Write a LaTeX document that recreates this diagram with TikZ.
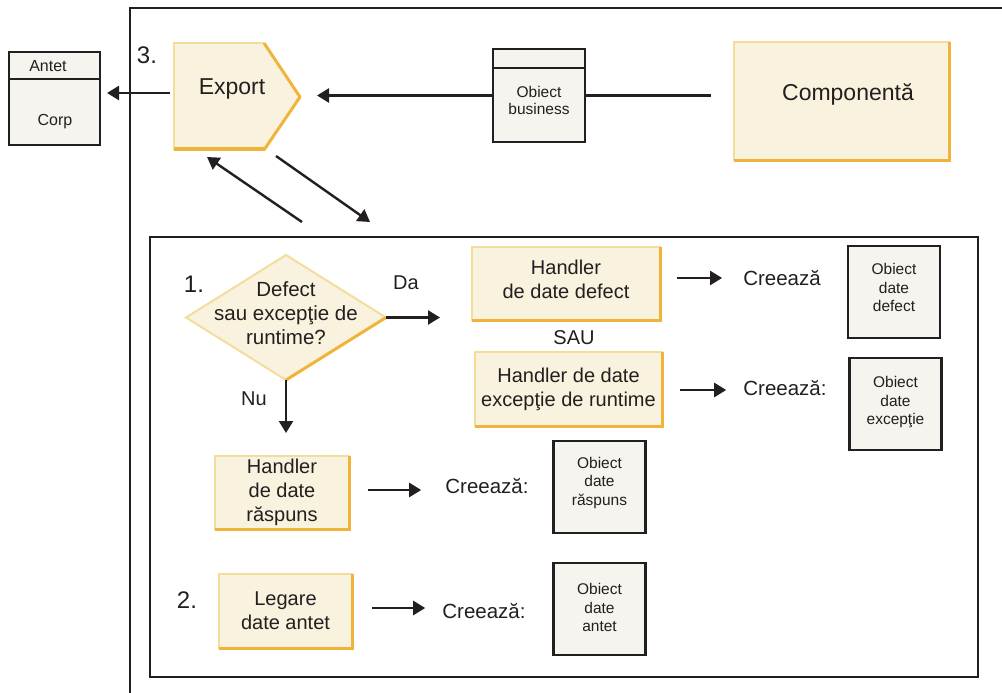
\documentclass[tikz,border=0pt]{standalone}
\usepackage{fontspec}
\setmainfont{Liberation Sans}
\usetikzlibrary{arrows.meta,shapes.geometric}
\definecolor{yfill}{HTML}{F8F2DE}
\definecolor{ylight}{HTML}{F4DD9C}
\definecolor{ydark}{HTML}{F0B43A}
\definecolor{ofill}{HTML}{F6F4EE}
\definecolor{ink}{HTML}{231F20}
\newcommand\shadebox[1]{\draw[shadeline] (#1.north east) -- (#1.south east) -- (#1.south west);}
\tikzset{
  ybox/.style={rectangle, fill=yfill, draw=ylight, line width=2pt, inner sep=0, outer sep=0, align=center, font=\fontsize{20}{24}\selectfont, text=ink},
  obox/.style={rectangle, fill=ofill, draw=ink, line width=2.2pt, inner sep=0, outer sep=0, minimum width=92, minimum height=92},
  otext/.style={inner sep=0, align=center, font=\fontsize{15.5}{18.5}\selectfont, text=ink},
  lbl/.style={inner sep=0, align=center, font=\fontsize{20}{24}\selectfont, text=ink},
  num/.style={inner sep=0, font=\fontsize{24}{28}\selectfont, text=ink},
  arr/.style={draw=ink, line width=2.4pt, -{Triangle[length=12pt,width=14pt]}},
  shadeline/.style={draw=ydark, line width=3pt},
}
\begin{document}
\begin{tikzpicture}[x=1pt,y=-1pt]
\useasboundingbox (0,0) rectangle (1002,693);
% outer frame
\draw[ink, line width=1.6pt] (130,693) -- (130,8) -- (1002,8);

% Antet / Corp message
\node[obox, minimum width=91, minimum height=93] (msg) at (54.5,98.5) {};
\draw[ink, line width=2pt] (msg.west |- 0,79) -- (msg.east |- 0,79);
\node[otext, font=\fontsize{16}{19}\selectfont] (antet) at (48,66) {Antet};
\node[otext, font=\fontsize{16}{19}\selectfont] (corp) at (55,122) {Corp};

% Export
\fill[yfill] (174,43) -- (264,43) -- (300,97) -- (264,150) -- (174,150) -- cycle;
\draw[ylight, line width=2pt] (174,150) -- (174,43) -- (264,43);
\draw[ydark, line width=3pt, line join=round] (264,43) -- (300,97) -- (264,150);
\draw[ydark, line width=4pt] (265,149) -- (174,149);
\node[minimum width=126, minimum height=107, inner sep=0, outer sep=0] (export) at (237,96.5) {};
\node[lbl, font=\fontsize{23}{27}\selectfont] (exportt) at (232,89) {Export};
\node[num] (n3) at (147,55) {3.};
\coordinate (ex) at (174,93);
\draw[arr, shorten <=4pt, shorten >=7pt] (ex) -- (ex -| msg.east);

% Business object
\node[obox, minimum width=92, minimum height=93] (bo) at (539,95.5) {};
\draw[ink, line width=2pt] (bo.west |- 0,68) -- (bo.east |- 0,68);
\node[otext, font=\fontsize{15.5}{17}\selectfont] (bot) at (539,100.5) {Obiect\\business};

% Component
\node[ybox, minimum width=215, minimum height=118] (comp) at (841.5,101) {};
\shadebox{comp}
\node[lbl, font=\fontsize{23}{27}\selectfont] (compt) at (848,94) {Componentă};

\draw[ink, line width=2.4pt, shorten <=23pt] (comp.west |- bo.east) -- (bo.east);
\draw[arr, shorten >=17pt] (bo.west) -- (bo.west -| 300,0);

% diagonal arrows
\coordinate (ua) at (302,222);
\coordinate (ub) at (207,157);
\coordinate (da) at (276,156);
\coordinate (db) at (370,222);
\draw[arr] (ua) -- (ub);
\draw[arr] (da) -- (db);

% inner box
\node[draw=ink, line width=2.6pt, minimum width=828, minimum height=440, inner sep=0, outer sep=0] (inner) at (564,457) {};

% decision
\node[num] (n1) at (194,284) {1.};
\node[diamond, fill=yfill, draw=ylight, line width=2pt, minimum width=200, minimum height=125, inner sep=0, outer sep=0] (dia) at (286,317.5) {};
\draw[shadeline] (dia.east) -- (dia.south);
\node[lbl, font=\fontsize{20.5}{24}\selectfont] (dq) at (286,313) {Defect\\sau excepţie de\\runtime?};
\node[lbl] (da-l) at (406,283) {Da};
\node[lbl] (nu-l) at (254,399) {Nu};

% handlers
\node[ybox, minimum width=188, minimum height=73] (hd) at (566,283.5) {};
\shadebox{hd}
\node[lbl] (hdt) at (566,279) {Handler\\de date defect};
\node[lbl] (sau) at (574,338) {SAU};
\node[ybox, minimum width=187, minimum height=74] (he) at (568.5,389) {Handler de date\\excepţie de runtime};
\shadebox{he}
\node[ybox, minimum width=134, minimum height=73] (hr) at (282,492.5) {Handler\\de date\\răspuns};
\shadebox{hr}
\node[num] (n2) at (187,600) {2.};
\node[ybox, minimum width=133, minimum height=74] (lg) at (285.5,611) {Legare\\date antet};
\shadebox{lg}

\draw[arr, shorten >=32pt] (dia.east) -- (dia.east -| hd.west);
\draw[arr, shorten >=23pt] (dia.south) -- (dia.south |- hr.north);

% creeaza labels
\node[lbl, font=\fontsize{20.5}{24}\selectfont] (c1) at (782,278) {Creează};
\node[lbl, font=\fontsize{20.5}{24}\selectfont] (c2) at (785,388) {Creează:};
\node[lbl, font=\fontsize{20.5}{24}\selectfont] (c3) at (487,486) {Creează:};
\node[lbl, font=\fontsize{20.5}{24}\selectfont] (c4) at (484,611) {Creează:};

\draw[arr, shorten <=17pt, shorten >=21pt] (hd.east |- c1.west) -- (c1.west);
\draw[arr, shorten <=18pt, shorten >=17pt] (he.east |- 0,390) -- (c2.west |- 0,390);
\draw[arr, shorten <=19pt, shorten >=24pt] (hr.east |- 0,490) -- (c3.west |- 0,490);
\draw[arr, shorten <=20pt, shorten >=17pt] (lg.east |- 0,608) -- (c4.west |- 0,608);

% data objects
\node[obox] (od) at (894,292) {};
\node[otext] (odt) at (894,287.5) {Obiect\\date\\defect};
\node[obox] (oe) at (895.5,404) {};
\node[otext] (oet) at (895.5,402.5) {Obiect\\date\\excepţie};
\node[obox] (or) at (599.5,487) {};
\node[otext] (ort) at (599.5,482.5) {Obiect\\date\\răspuns};
\node[obox] (oa) at (599.5,609) {};
\node[otext] (oat) at (599.5,607.5) {Obiect\\date\\antet};
\end{tikzpicture}
\end{document}
